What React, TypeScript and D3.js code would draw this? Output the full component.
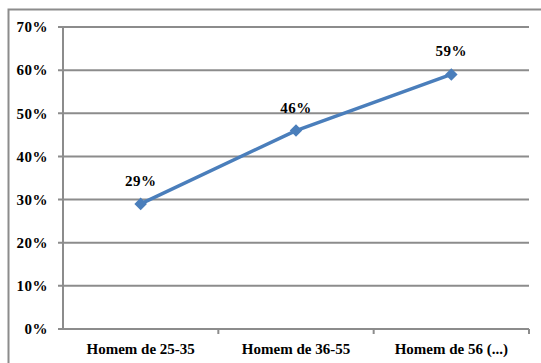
import * as d3 from "d3";
import React, { useEffect, useRef } from "react";

const categories = ["Homem de 25-35", "Homem de 36-55", "Homem de 56 (...)"];
const values = [29, 46, 59];
const yTicks = [0, 10, 20, 30, 40, 50, 60, 70];

export default function App() {
  const ref = useRef<SVGSVGElement>(null);

  useEffect(() => {
    const svg = d3.select(ref.current);
    svg.selectAll("*").remove();

    const width = 541;
    const height = 363;
    const margin = { top: 27, right: 12, bottom: 34, left: 63 };
    const font = "'Liberation Serif', 'Times New Roman', serif";
    const grey = "#8c8c8c";

    // Cuadro exterior (solo arriba y a la izquierda se ven)
    svg
      .append("path")
      .attr("d", `M8.5,${height}V9.5H${width}`)
      .attr("fill", "none")
      .attr("stroke", grey)
      .attr("stroke-width", 2);

    const x = d3
      .scaleBand<string>()
      .domain(categories)
      .range([margin.left, width - margin.right]);
    const y = d3
      .scaleLinear()
      .domain([0, 70])
      .range([height - margin.bottom, margin.top]);

    // Líneas de la cuadrícula
    svg
      .append("g")
      .selectAll("line")
      .data(yTicks)
      .join("line")
      .attr("x1", margin.left - 5)
      .attr("x2", width - margin.right)
      .attr("y1", (d) => y(d))
      .attr("y2", (d) => y(d))
      .attr("stroke", grey)
      .attr("stroke-width", 2);

    // Eje vertical
    svg
      .append("line")
      .attr("x1", margin.left)
      .attr("x2", margin.left)
      .attr("y1", y(70))
      .attr("y2", y(0))
      .attr("stroke", grey)
      .attr("stroke-width", 2);

    // Marcas entre categorías
    const catTicks = categories.map((c) => (x(c) ?? 0) + x.bandwidth());
    svg
      .append("g")
      .selectAll("line")
      .data(catTicks)
      .join("line")
      .attr("x1", (d) => d)
      .attr("x2", (d) => d)
      .attr("y1", y(0))
      .attr("y2", y(0) + 5)
      .attr("stroke", grey)
      .attr("stroke-width", 2);

    // Etiquetas eje y
    svg
      .append("g")
      .attr("font-family", font)
      .attr("font-weight", "bold")
      .attr("font-size", "15px")
      .attr("text-anchor", "end")
      .attr("letter-spacing", "0.5px")
      .selectAll("text")
      .data(yTicks)
      .join("text")
      .attr("x", 48)
      .attr("y", (d) => y(d))
      .attr("dy", "0.35em")
      .text((d) => `${d}%`);

    // Etiquetas de categoría
    svg
      .append("g")
      .attr("font-family", font)
      .attr("font-weight", "bold")
      .attr("font-size", "15px")
      .attr("text-anchor", "middle")
      .selectAll("text")
      .data(categories)
      .join("text")
      .attr("x", (d) => (x(d) ?? 0) + x.bandwidth() / 2)
      .attr("y", y(0) + 25)
      .text((d) => d);

    const cx = (i: number) => (x(categories[i]) ?? 0) + x.bandwidth() / 2;

    const line = d3
      .line<number>()
      .x((_, i) => cx(i))
      .y((d) => y(d));

    svg
      .append("path")
      .datum(values)
      .attr("d", line)
      .attr("fill", "none")
      .attr("stroke", "#4a7ebb")
      .attr("stroke-width", 3.5)
      .attr("stroke-linejoin", "round");

    svg
      .append("g")
      .selectAll("path")
      .data(values)
      .join("path")
      .attr("d", d3.symbol(d3.symbolDiamond2, 100))
      .attr("transform", (d, i) => `translate(${cx(i)},${y(d)})`)
      .attr("fill", "#4a7ebb");

    // Etiquetas de datos
    svg
      .append("g")
      .attr("font-family", font)
      .attr("font-weight", "bold")
      .attr("font-size", "15px")
      .attr("text-anchor", "middle")
      .attr("letter-spacing", "0.5px")
      .selectAll("text")
      .data(values)
      .join("text")
      .attr("x", (_, i) => cx(i))
      .attr("y", (d) => y(d) - 18)
      .text((d) => `${d}%`);
  }, []);

  return (
    <svg
      ref={ref}
      width={541}
      height={363}
      style={{ position: "absolute", left: 0, top: 0, background: "#fff" }}
    ></svg>
  );
}
